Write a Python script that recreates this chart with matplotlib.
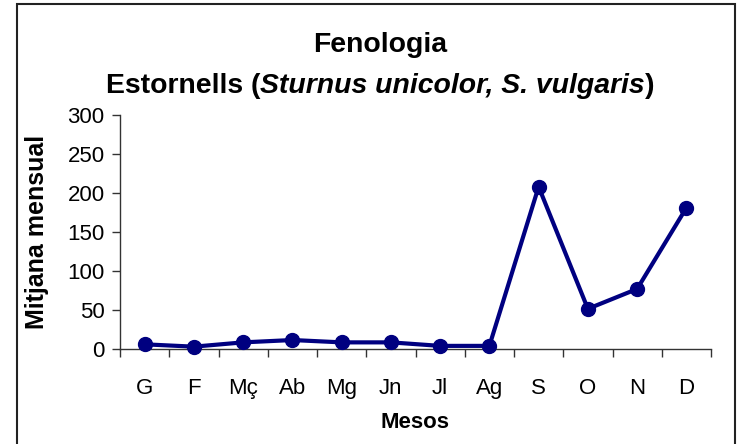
import numpy as np
import matplotlib
matplotlib.use('Agg')
import matplotlib.pyplot as plt
from matplotlib.patches import Rectangle

plt.rcParams['font.family'] = ['Liberation Sans', 'DejaVu Sans']

# dades: mitjana mensual d'estornells
mesos = ['G', 'F', 'Mç', 'Ab', 'Mg', 'Jn', 'Jl', 'Ag', 'S', 'O', 'N', 'D']
mitjana = [6, 3, 8.5, 11.5, 8.5, 8.5, 4, 4, 208, 51.5, 77, 181]

W, H = 741, 444
fig = plt.figure(figsize=(W / 100, H / 100), dpi=100)
ax = fig.add_axes([120 / W, 1 - 349 / H, (711 - 120) / W, (349 - 115) / H])

x = np.arange(len(mesos))
ax.plot(x, mitjana, '-o', color='#000080', lw=3, ms=10, clip_on=False, zorder=3)

ax.set_xlim(-0.5, len(mesos) - 0.5)
ax.set_ylim(0, 300)
ax.set_yticks(np.arange(0, 301, 50))
ax.set_xticks(x)
ax.set_xticklabels(mesos)
ax.set_xticks(np.arange(-0.5, len(mesos)), minor=True)
ax.tick_params(axis='x', which='major', length=0, pad=21, labelsize=16)
ax.tick_params(axis='x', which='minor', length=6, width=1, color='#333333')
ax.tick_params(axis='y', length=6, width=1, color='#333333', pad=5, labelsize=16)

for s in ['top', 'right']:
    ax.spines[s].set_visible(False)
for s in ['left', 'bottom']:
    ax.spines[s].set_color('#333333')
    ax.spines[s].set_linewidth(1)

ax.set_xlabel('Mesos', fontsize=16, fontweight='bold', labelpad=9)
ax.set_ylabel('Mitjana mensual', fontsize=18, fontweight='bold', labelpad=13)

# titol en dues linies, la segona amb noms cientifics en cursiva
fig.text(380 / W, 1 - 52 / H, 'Fenologia', ha='center', va='baseline',
         fontsize=20.4, fontweight='bold')
parts = [('Estornells (', 'normal'), ('Sturnus unicolor, S. vulgaris', 'italic'), (')', 'normal')]
txts = [fig.text(0, 1 - 93 / H, p, ha='left', va='baseline', fontsize=20.4,
                 fontweight='bold', style=st) for p, st in parts]
fig.canvas.draw()
r = fig.canvas.get_renderer()
widths = [t.get_window_extent(r).width for t in txts]
x0 = 380 - sum(widths) / 2
for t, w in zip(txts, widths):
    t.set_x(x0 / W)
    x0 += w

# marc exterior del grafic
fig.patches.append(Rectangle((17 / W, -0.05), (735 - 17) / W, 1.05 - 4 / H,
                             transform=fig.transFigure, fill=False,
                             edgecolor='#222222', lw=1.5))

fig.savefig('out.png', dpi=100)
